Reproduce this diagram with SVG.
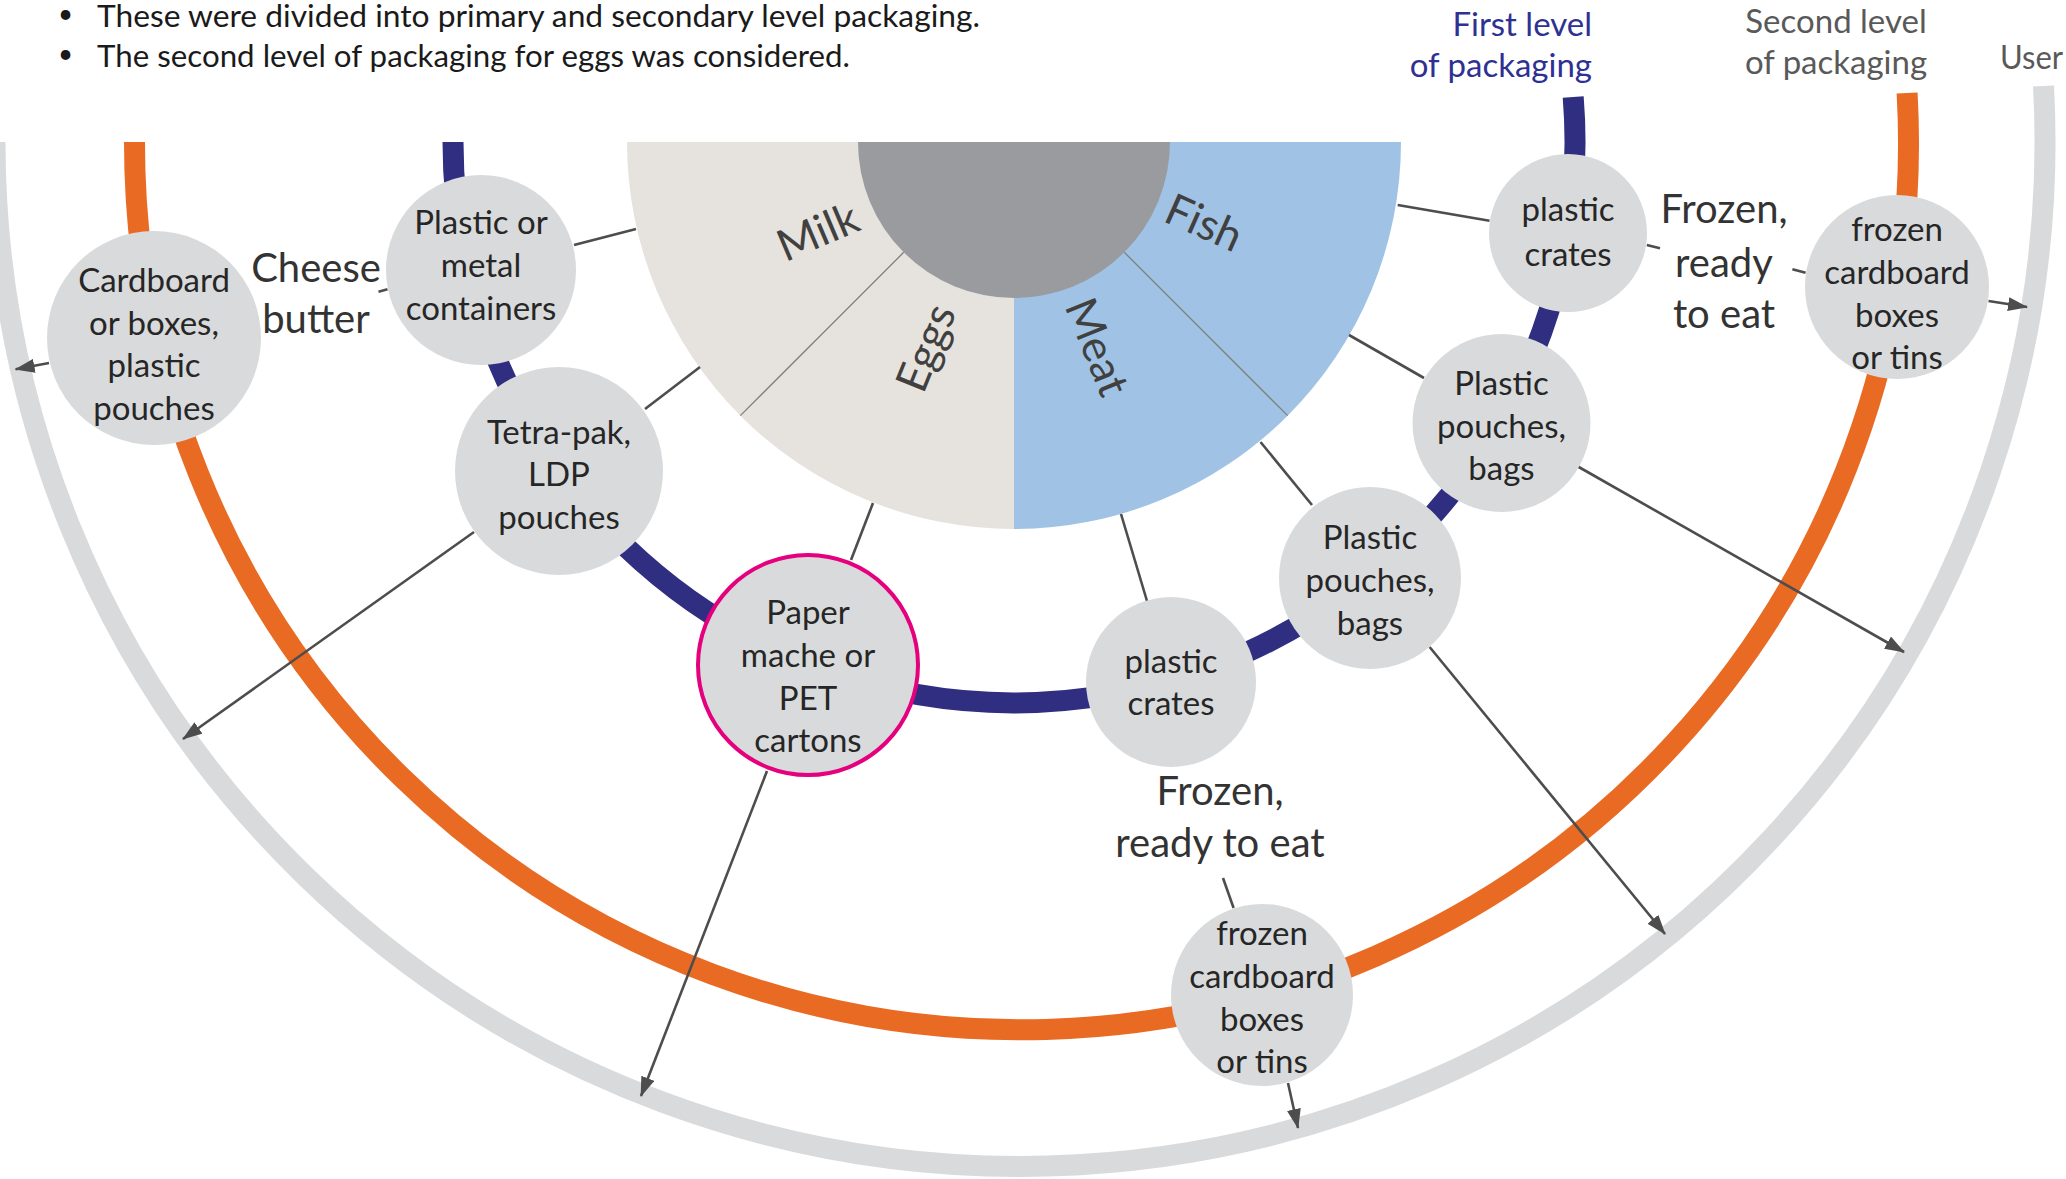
<svg xmlns="http://www.w3.org/2000/svg" width="2066" height="1179" viewBox="0 0 2066 1179">
<defs>
<style>
.t{font-family:Lato,"Liberation Sans",sans-serif;}
.node{fill:#D9DADB;}
.nt{font-size:33px;fill:#262626;text-anchor:middle;}
.lab{font-size:40px;fill:#333333;text-anchor:middle;}
.pie{font-size:44px;fill:#404040;text-anchor:middle;}
.hd{font-size:31px;fill:#1A1A1A;}
.bl{font-size:26px;fill:#1A1A1A;}
.conn{stroke:#4D4D4D;stroke-width:2.6;fill:none;}
.arr{stroke:#4D4D4D;stroke-width:2.6;fill:none;marker-end:url(#ah);}
.ring{fill:none;stroke-width:21;}
</style>
<marker id="ah" viewBox="0 0 20 14" markerWidth="20" markerHeight="14" refX="19" refY="7" orient="auto" markerUnits="userSpaceOnUse">
<path d="M0,0 L20,7 L0,14 z" fill="#4D4D4D"/>
</marker>
</defs>
<rect width="2066" height="1179" fill="#FFFFFF"/>

<g id="header" class="t">
<text class="bl" x="58" y="23">•</text>
<text class="hd" x="97" y="27" textLength="883" lengthAdjust="spacingAndGlyphs">These were divided into primary and secondary level packaging.</text>
<text class="bl" x="58" y="63">•</text>
<text class="hd" x="97" y="67" textLength="753" lengthAdjust="spacingAndGlyphs">The second level of packaging for eggs was considered.</text>
</g>

<g id="rings">
<path id="ring-user" class="ring" stroke="#D9DADB" d="M -5 142 A 1025 1025 0 1 0 2043.5 86"/>
<path id="ring-second" class="ring" stroke="#E96B23" d="M 134.5 142 A 887 887 0 1 0 1907.1 93"/>
<path id="ring-first" class="ring" stroke="#2F2E80" d="M 453 142 A 561 561 0 1 0 1573.2 97"/>
</g>

<g id="ring-labels" class="t">
<text x="1592" y="36" font-size="33" fill="#2E3192" text-anchor="end">First level</text>
<text x="1592" y="77" font-size="33" fill="#2E3192" text-anchor="end">of packaging</text>
<text x="1836" y="33" font-size="33" fill="#595959" text-anchor="middle">Second level</text>
<text x="1836" y="74" font-size="33" fill="#595959" text-anchor="middle">of packaging</text>
<text x="2000" y="69" font-size="33" fill="#595959" textLength="63" lengthAdjust="spacingAndGlyphs">User</text>
</g>

<g id="pie">
<path id="sector-milk" d="M1014 142 L627 142 A387 387 0 0 0 740.35 415.65 Z" fill="#E6E2DD"/>
<path id="sector-eggs" d="M1014 142 L740.35 415.65 A387 387 0 0 0 1014 529 Z" fill="#E6E2DD"/>
<path id="sector-meat" d="M1014 142 L1014 529 A387 387 0 0 0 1287.65 415.65 Z" fill="#A0C3E5"/>
<path id="sector-fish" d="M1014 142 L1287.65 415.65 A387 387 0 0 0 1401 142 Z" fill="#A0C3E5"/>
<line x1="903.7" y1="252.3" x2="740.35" y2="415.65" stroke="#7F7F7F" stroke-width="1.3"/>
<line x1="1124.3" y1="252.3" x2="1287.65" y2="415.65" stroke="#7F7F7F" stroke-width="1.3"/>
<path id="hub" d="M858 142 A156 156 0 0 0 1170 142 Z" fill="#999B9E"/>
<g class="t">
<text class="pie" transform="translate(818,232) rotate(-23)" y="15">Milk</text>
<text class="pie" transform="translate(926,348) rotate(-68)" y="15">Eggs</text>
<text class="pie" transform="translate(1097,347) rotate(68)" y="15">Meat</text>
<text class="pie" transform="translate(1204,223) rotate(24)" y="15">Fish</text>
</g>
</g>

<g id="connectors">
<line class="conn" x1="636" y1="229" x2="574" y2="245"/>
<line class="conn" x1="700" y1="367" x2="645" y2="409"/>
<line class="conn" x1="873" y1="503" x2="851" y2="560"/>
<line class="conn" x1="1121" y1="514" x2="1147" y2="601"/>
<line class="conn" x1="1260.5" y1="442" x2="1312" y2="505"/>
<line class="conn" x1="1349" y1="335" x2="1424" y2="378"/>
<line class="conn" x1="1397.7" y1="205" x2="1489.5" y2="220.7"/>
<line class="conn" x1="378.5" y1="291.7" x2="387.5" y2="289.3"/>
<line class="conn" x1="1646.8" y1="245" x2="1660" y2="248.3"/>
<line class="conn" x1="1792.4" y1="269.3" x2="1805.6" y2="272.7"/>
<line class="conn" x1="1223" y1="878" x2="1233.6" y2="908"/>
<line class="arr" x1="49" y1="363" x2="15.6" y2="369.3"/>
<line class="arr" x1="474" y1="532" x2="183" y2="739"/>
<line class="arr" x1="767" y1="771" x2="641" y2="1096"/>
<line class="arr" x1="1288" y1="1083" x2="1298" y2="1128"/>
<line class="arr" x1="1429.6" y1="647" x2="1665" y2="934"/>
<line class="arr" x1="1577" y1="466" x2="1904" y2="652"/>
<line class="arr" x1="1988.5" y1="301" x2="2027" y2="307"/>
</g>

<g id="n1"><circle class="node" cx="154" cy="338" r="107"/>
<g class="t"><text class="nt" x="154" y="292">Cardboard</text><text class="nt" x="154" y="334.5">or boxes,</text><text class="nt" x="154" y="377">plastic</text><text class="nt" x="154" y="419.5">pouches</text></g></g>

<g id="n2"><circle class="node" cx="481" cy="270" r="95"/>
<g class="t"><text class="nt" x="481" y="234">Plastic or</text><text class="nt" x="481" y="277">metal</text><text class="nt" x="481" y="320">containers</text></g></g>

<g id="n3"><circle class="node" cx="559" cy="471" r="104"/>
<g class="t"><text class="nt" x="559" y="443.5">Tetra-pak,</text><text class="nt" x="559" y="486">LDP</text><text class="nt" x="559" y="529">pouches</text></g></g>

<g id="n4"><circle class="node" cx="808" cy="665" r="110" stroke="#E5007E" stroke-width="4"/>
<g class="t"><text class="nt" x="808" y="624">Paper</text><text class="nt" x="808" y="666.5">mache or</text><text class="nt" x="808" y="709.5">PET</text><text class="nt" x="808" y="752">cartons</text></g></g>

<g id="n5"><circle class="node" cx="1171" cy="682" r="85"/>
<g class="t"><text class="nt" x="1171" y="673">plastic</text><text class="nt" x="1171" y="715">crates</text></g></g>

<g id="n6"><circle class="node" cx="1370" cy="578" r="91"/>
<g class="t"><text class="nt" x="1370" y="549">Plastic</text><text class="nt" x="1370" y="592">pouches,</text><text class="nt" x="1370" y="634.5">bags</text></g></g>

<g id="n7"><circle class="node" cx="1501.5" cy="423" r="89"/>
<g class="t"><text class="nt" x="1501.5" y="395">Plastic</text><text class="nt" x="1501.5" y="437.5">pouches,</text><text class="nt" x="1501.5" y="479.5">bags</text></g></g>

<g id="n8"><circle class="node" cx="1568" cy="233" r="79"/>
<g class="t"><text class="nt" x="1568" y="221" font-size="35">plastic</text><text class="nt" x="1568" y="266" font-size="35">crates</text></g></g>

<g id="n9"><circle class="node" cx="1897" cy="287" r="92"/>
<g class="t"><text class="nt" x="1897" y="240.5">frozen</text><text class="nt" x="1897" y="284">cardboard</text><text class="nt" x="1897" y="326.5">boxes</text><text class="nt" x="1897" y="369">or tins</text></g></g>

<g id="n10"><circle class="node" cx="1262" cy="995" r="91"/>
<g class="t"><text class="nt" x="1262" y="945">frozen</text><text class="nt" x="1262" y="988">cardboard</text><text class="nt" x="1262" y="1031">boxes</text><text class="nt" x="1262" y="1073">or tins</text></g></g>

<g id="labels" class="t">
<text class="lab" x="316" y="282">Cheese</text>
<text class="lab" x="316" y="333">butter</text>
<text class="lab" x="1724" y="223">Frozen,</text>
<text class="lab" x="1724" y="277">ready</text>
<text class="lab" x="1724" y="328">to eat</text>
<text class="lab" x="1220" y="805">Frozen,</text>
<text class="lab" x="1220" y="857">ready to eat</text>
</g>
</svg>
